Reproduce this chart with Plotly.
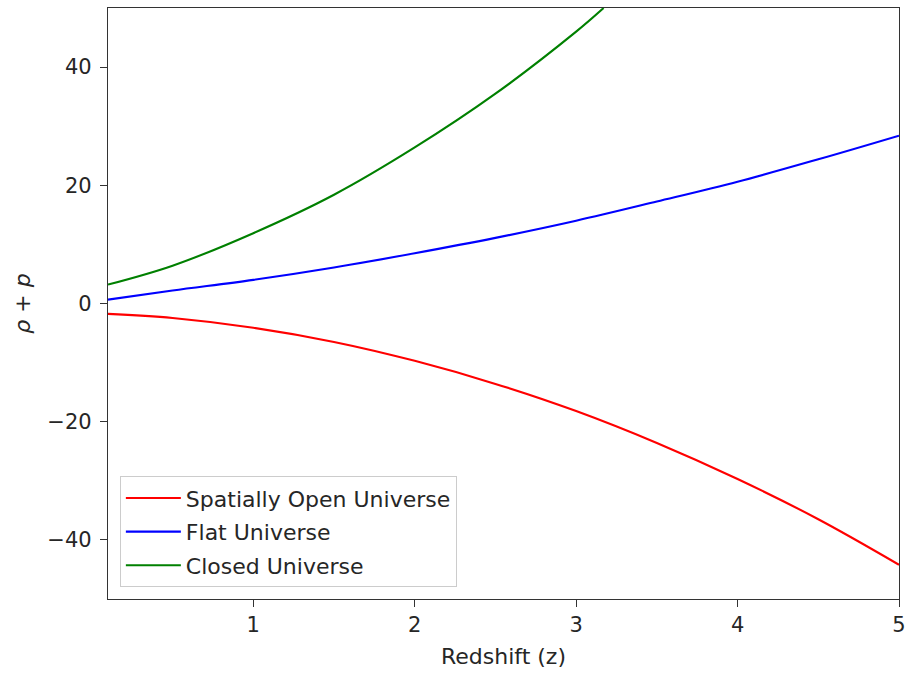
import plotly.graph_objects as go

# Data
z = [0.1, 0.5, 1.0, 1.5, 2.0, 2.5, 3.0, 3.5, 4.0, 4.5, 5.0]
open_vals = [-1.76, -2.45, -4.1, -6.5, -9.7, -13.6, -18.2, -23.6, -29.7, -36.5, -44.2]
flat_vals = [0.65, 2.2, 4.0, 6.1, 8.5, 11.1, 14.0, 17.25, 20.6, 24.4, 28.4]
z_closed = [0.1, 0.5, 1.0, 1.5, 2.0, 2.5, 3.0, 3.17]
closed_vals = [3.2, 6.4, 11.9, 18.4, 26.4, 35.5, 46.0, 50.0]

x_ticks = [1, 2, 3, 4, 5]
y_ticks = [-40, -20, 0, 20, 40]
y_ticktext = ["\u221240", "\u221220", "0", "20", "40"]

series = [
    ("Spatially Open Universe", z, open_vals, "#ff0000"),
    ("Flat Universe", z, flat_vals, "#0000ff"),
    ("Closed Universe", z_closed, closed_vals, "#008000"),
]

fig = go.Figure()
for i, (name, xs, ys, col) in enumerate(series):
    fig.add_trace(go.Scatter(
        x=xs, y=ys, mode="lines", name=name,
        line=dict(color=col, width=2.1, shape="spline", smoothing=1.0),
        legendgroup=f"g{i}",
    ))

axis_common = dict(
    showline=True, mirror=True, linecolor="#333333", linewidth=1.2,
    ticks="outside", ticklen=7, tickwidth=1.2, tickcolor="#333333",
    showgrid=False, zeroline=False,
    tickfont=dict(size=21),
)

fig.update_layout(
    width=913, height=675,
    margin=dict(l=108, r=10, t=7, b=76),
    plot_bgcolor="white", paper_bgcolor="white",
    font=dict(family="DejaVu Sans", size=20, color="#262626"),
    showlegend=True,
    legend=dict(
        x=0.015, y=0.02, xanchor="left", yanchor="bottom",
        bgcolor="rgba(255,255,255,0.8)", bordercolor="#cccccc", borderwidth=1,
        font=dict(size=22), traceorder="grouped", tracegroupgap=2,
        itemwidth=55,
    ),
    xaxis=dict(
        range=[0.1, 5], tickvals=x_ticks,
        title=dict(text="Redshift (z)", standoff=12, font=dict(size=22)),
        **axis_common,
    ),
    yaxis=dict(
        range=[-50, 50], tickvals=y_ticks, ticktext=y_ticktext,
        ticklabelstandoff=4,
        title=dict(text="<i>ρ</i> + <i>p</i>", standoff=10, font=dict(size=22)),
        **axis_common,
    ),
)

fig.write_html("out.html")
